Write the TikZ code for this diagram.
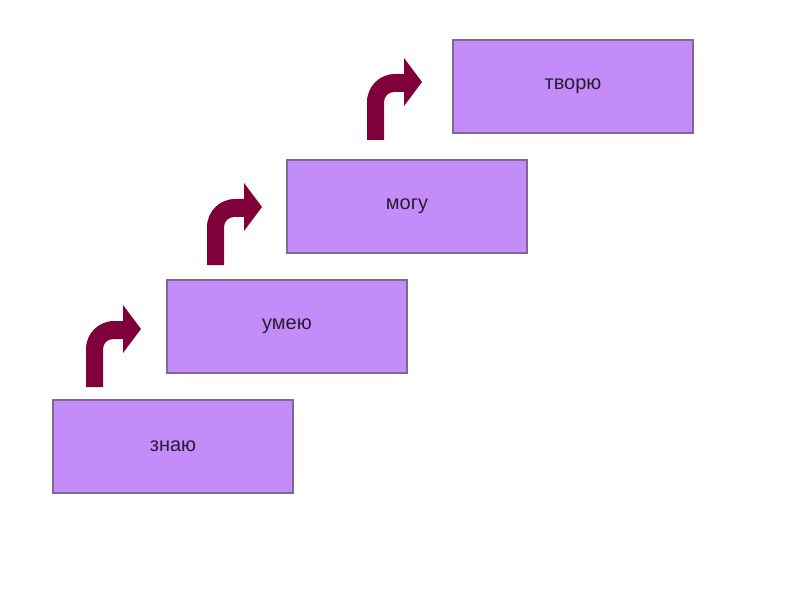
\documentclass[tikz,border=0pt]{standalone}
\usepackage{fontspec}
\setmainfont{Liberation Sans}
\definecolor{boxPurple}{RGB}{196,140,248}
\definecolor{boxEdge}{RGB}{125,105,145}
\definecolor{arrowMaroon}{RGB}{128,0,60}
\definecolor{textDark}{RGB}{40,30,50}

\begin{document}
\begin{tikzpicture}[x=0.025cm, y=0.025cm,
	stepbox/.style={draw=boxEdge, line width=1pt, fill=boxPurple, minimum width=6cm, minimum height=2.325cm, inner sep=0pt, text=textDark, font=\fontsize{14.2}{17}\selectfont}]

	\useasboundingbox (0,0) rectangle (800,600);

% Draw boxes.

	\node[stepbox] (know) at (173, 153.5) {знаю};
	\node[stepbox] (canDo) at (287, 273.5) {умею};
	\node[stepbox] (able) at (407, 393.5) {могу};
	\node[stepbox] (create) at (573, 513.5) {творю};

% Draw bent arrows.

	\foreach \bx/\by in {86/213, 207/335, 367/460}
		\fill[arrowMaroon, shift={(\bx,\by)}] (0,0) -- (0,38) arc[start angle=180, end angle=90, radius=28] -- (37,66) -- (37,82) -- (55,58) -- (37,34) -- (37,48) -- (27,48) arc[start angle=90, end angle=180, radius=10] -- (17,0) -- cycle;

\end{tikzpicture}
\end{document}
